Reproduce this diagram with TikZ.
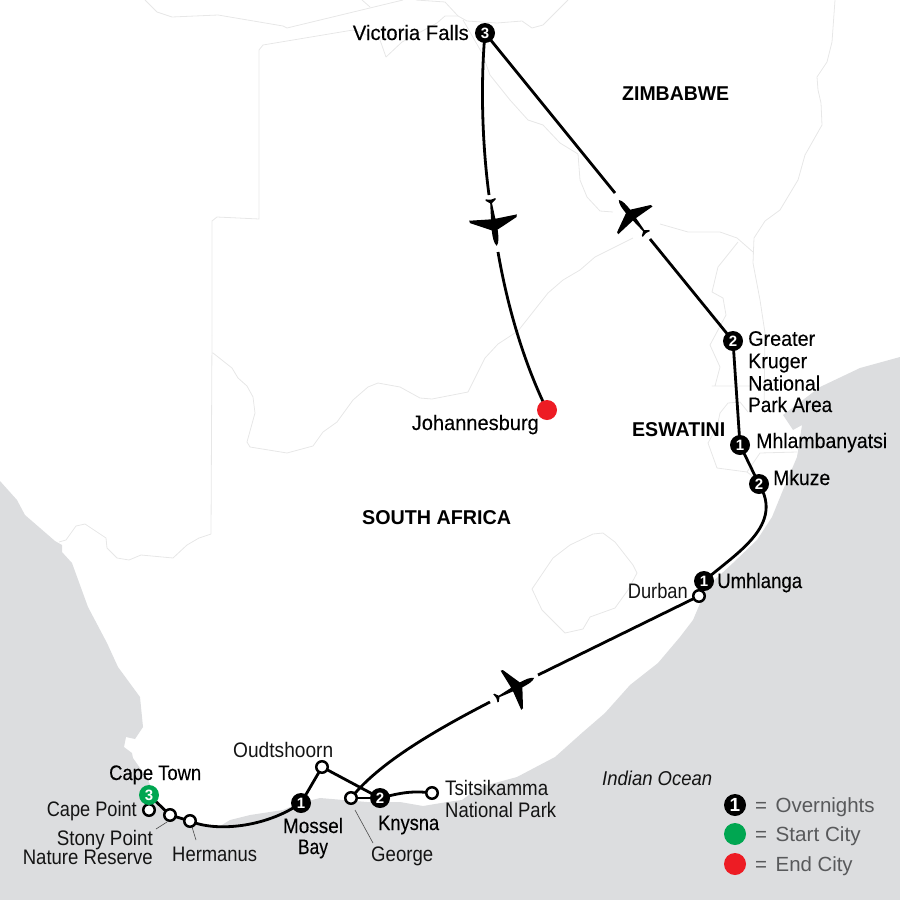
\documentclass[tikz,border=0pt]{standalone}
\usepackage{fontspec}
\usepackage{graphicx}
\setmainfont{Liberation Sans}
\newfontfamily\medfont[FakeBold=0.2]{Liberation Sans}
\newfontfamily\boldfont{Liberation Sans Bold}
\definecolor{sea}{HTML}{DCDDDF}
\definecolor{border}{HTML}{E7E7E7}
\definecolor{startgreen}{HTML}{00A651}
\definecolor{endred}{HTML}{ED1C24}
\definecolor{legendgray}{HTML}{58595B}
\newcommand{\fitw}[2]{\resizebox{#1pt}{\height}{#2}}
\pgfdeclarelayer{maplayer}
\pgfdeclarelayer{routelayer}
\pgfsetlayers{maplayer,routelayer,main}
\tikzset{
  x=1pt,y=-1pt,
  borderline/.style={draw=border,line width=0.8pt,line join=round},
  route/.style={draw=black,line width=2.8pt},
  leader/.style={draw=black!70,line width=0.6pt},
  badge/.style={circle,fill=black,minimum size=20pt,inner sep=0pt,text=white,font=\boldfont\fontsize{15}{15}\selectfont},
  startbadge/.style={badge,fill=startgreen},
  stopdot/.style={circle,fill=white,draw=black,line width=2.5pt,minimum size=11.5pt,inner sep=0pt},
  enddot/.style={circle,fill=endred,minimum size=20pt,inner sep=0pt},
  legenddot/.style={circle,minimum size=22pt,inner sep=0pt},
  place/.style={inner sep=0pt,text=black!92,font=\fontsize{21}{22}\selectfont},
  mainplace/.style={inner sep=0pt,text=black,font=\medfont\fontsize{21}{22}\selectfont},
  country/.style={inner sep=0pt,text=black,font=\boldfont\fontsize{20}{22}\selectfont},
  legendtext/.style={inner sep=0pt,text=legendgray,font=\fontsize{20.5}{22}\selectfont},
  plane/.pic={
    \fill[black] (21,0) .. controls (18,-2.8) and (12,-3) .. (5,-3)
      -- (-5,-23.5) -- (-7.5,-24) -- (-6,-2.2) -- (-22,-0.9) -- (-25,-5) -- (-26.5,-5)
      -- (-25.5,0) -- (-26.5,5) -- (-25,5) -- (-22,0.9) -- (-6,2.2) -- (-7.5,24) -- (-5,23.5)
      -- (5,3) .. controls (12,3) and (18,2.8) .. (21,0) -- cycle;
  }
}
\begin{document}
\begin{tikzpicture}
\useasboundingbox (0,0) rectangle (900,900);

% --- route stops
\node[badge] (vic) at (485,33) {3};
\node[badge] (kruger) at (733,341) {2};
\node[badge] (mhlam) at (740,445) {1};
\node[badge] (mkuze) at (759,484) {2};
\node[badge] (umhl) at (704,581) {1};
\node[stopdot] (durban) at (699,596) {};
\node[enddot] (jnb) at (547,410) {};
\node[stopdot] (george) at (351,798) {};
\node[badge] (knysna) at (380,798) {2};
\node[stopdot] (tsitsi) at (432,793) {};
\node[stopdot] (oudts) at (322,767) {};
\node[badge] (mossel) at (301,803) {1};
\node[stopdot] (herm) at (190,821) {};
\node[stopdot] (stony) at (170,815) {};
\node[stopdot] (capept) at (149,810) {};
\node[startbadge] (capetown) at (149,795) {3};

% --- gap ends of the flown legs
\coordinate (f1a) at (489,195);
\coordinate (f1b) at (498,252);
\coordinate (f2a) at (615,193);
\coordinate (f2b) at (650,239);
\coordinate (f3a) at (490,702);
\coordinate (f3b) at (538,675);
% leader ends
\coordinate (lg) at (373,843);
\coordinate (lg0) at (355,810);
\coordinate (lh) at (196,840);
\coordinate (lh0) at (192,827);
\coordinate (ls) at (156,829);
\coordinate (ls0) at (167,822);

\begin{pgfonlayer}{maplayer}
\fill[sea] (0,481) -- (17,500) -- (25,515) -- (55,541) -- (62,545) -- (62,552) -- (72,563) -- (88,607) -- (107,643) -- (118,667) -- (140,697) -- (143,727) -- (135,739) -- (126,737) -- (124,747) -- (132,753) -- (133,758) -- (140,768) -- (147,778) -- (157,800) -- (170,815) -- (197,825) -- (217,828) -- (230,820) -- (250,815) -- (283,810) -- (300,803) -- (320,798) -- (367,802) -- (400,802) -- (423,806) -- (447,802) -- (462,800) -- (480,787) -- (517,777) -- (555,757) -- (583,732) -- (605,713) -- (630,685) -- (658,663) -- (680,637) -- (693,620) -- (707,587) -- (733,563) -- (757,540) -- (772,517) -- (783,490) -- (797,457) -- (802,425) -- (793,430) -- (783,415) -- (820,387) -- (860,368) -- (900,357) -- (900,900) -- (0,900) -- cycle;
% borders
\draw[borderline] (145,0) -- (157,12) -- (172,17) -- (218,15) -- (283,26) -- (287,28) -- (403,0);
\draw[borderline] (362,0) -- (370,7);
\draw[borderline] (416,0) -- (445,2) -- (458,16);
\draw[borderline] (212,335) -- (212,221) -- (217,217) -- (259,219) -- (259,50) -- (263,45) -- (353,30);
\draw[borderline] (353,30) -- (380,40) -- (386,57) -- (402,42) -- (437,23) -- (445,16) -- (458,16) -- (467,21) -- (497,23) -- (522,21) -- (532,28) -- (543,25) -- (568,0);
\draw[borderline] (463,20) -- (482,53) -- (490,75) -- (510,100) -- (528,120) -- (543,125) -- (560,143) -- (578,154) -- (580,180) -- (587,197) -- (600,211) -- (613,212);
\draw[borderline] (660,224) -- (688,232) -- (720,232) -- (737,238) -- (753,252);
\draw[borderline] (835,0) -- (832,42) -- (827,62) -- (817,77) -- (818,90) -- (821,103) -- (822,125) -- (805,155) -- (798,180) -- (780,210) -- (765,221) -- (754,238) -- (753,263) -- (760,300) -- (765,333) -- (764,412);
\draw[borderline] (738,242) -- (718,267) -- (712,292) -- (723,298) -- (726,315) -- (710,345) -- (720,367) -- (715,386) -- (712,386) -- (765,386);
\draw[borderline] (748,412) -- (740,402) -- (728,403) -- (720,413) -- (717,427) -- (708,443) -- (717,468) -- (747,472) -- (760,453) -- (797,452);
\draw[borderline] (747,472) -- (760,482);
\draw[borderline] (633,238) -- (595,257) -- (580,270) -- (563,280) -- (548,293) -- (518,331) -- (498,344) -- (485,358) -- (468,392) -- (432,399) -- (420,398) -- (400,387) -- (378,383) -- (368,387) -- (353,400) -- (337,422) -- (323,432) -- (313,446) -- (287,453) -- (250,447) -- (247,442) -- (255,413) -- (253,397) -- (247,386) -- (238,378) -- (232,368) -- (213,353) -- (212,353);
\draw[borderline] (212,335) -- (211,534) -- (199,538) -- (187,545) -- (173,558) -- (141,555) -- (129,560) -- (117,558) -- (107,548) -- (106,538) -- (85,524) -- (76,526) -- (66,540) -- (59,542);
\draw[borderline] (603,533) -- (593,534) -- (570,545) -- (553,558) -- (532,589) -- (542,610) -- (565,633) -- (583,629) -- (590,617) -- (615,608) -- (628,590) -- (637,573) -- (633,565) -- (615,542) -- cycle;
\end{pgfonlayer}

\begin{pgfonlayer}{routelayer}
\draw[route] (capetown.center) -- (stony.center) -- (herm.center);
\draw[route] (capetown.center) -- (capept.center);
\draw[route] (herm.center) .. controls (215,832) and (265,828) .. (mossel.center);
\draw[route] (mossel.center) -- (oudts.center) -- (knysna.center);
\draw[route] (george.center) -- (knysna.center);
\draw[route] (knysna.center) .. controls (397,794) and (410,790) .. (tsitsi.center);
\draw[route] (george.center) .. controls (375,768) and (420,738) .. (f3a);
\draw[route] (f3b) -- (durban.center);
\draw[route] (durban.center) -- (umhl.center);
\draw[route] (umhl.center) .. controls (738,552) and (784,525) .. (mkuze.center);
\draw[route] (mkuze.center) -- (mhlam.center) -- (kruger.center);
\draw[route] (kruger.center) -- (f2b);
\draw[route] (f2a) -- (vic.center);
\draw[route] (vic.center) .. controls (480,90) and (483,150) .. (f1a);
\draw[route] (f1b) .. controls (508,310) and (525,365) .. (jnb.center);
\draw[leader] (lg0) -- (lg);
\draw[leader] (lh0) -- (lh);
\draw[leader] (ls0) -- (ls);
\end{pgfonlayer}

% --- aeroplanes
\pic[rotate=-82.4] at (494,225) {plane};
\pic[rotate=129,scale=0.92] at (631,215) {plane};
\pic[rotate=27.8,scale=0.92] at (517,687) {plane};

% --- labels
\node[mainplace,anchor=base east] (lvic) at (469,40) {\fitw{116}{Victoria Falls}};
\node[country,anchor=base west] (lzim) at (622,100) {\fitw{107}{ZIMBABWE}};
\node[country,anchor=base west] (lesw) at (632,436) {\fitw{93}{ESWATINI}};
\node[country,anchor=base west] (lsa) at (362,524) {\fitw{149}{SOUTH AFRICA}};
\node[mainplace,anchor=base west,align=left] (lkrug) at (748,412) {\fitw{67}{Greater}\\[0.4pt]\fitw{59}{Kruger}\\[0.4pt]\fitw{72}{National}\\[-0.6pt]\fitw{84}{Park Area}};
\node[mainplace,anchor=base west] (lmhl) at (756,448) {\fitw{131}{Mhlambanyatsi}};
\node[mainplace,anchor=base west] (lmku) at (773,485) {\fitw{57}{Mkuze}};
\node[mainplace,anchor=base west] (lumh) at (717,588) {\fitw{85}{Umhlanga}};
\node[place,anchor=base east] (ldur) at (688,598) {\fitw{60}{Durban}};
\node[mainplace,anchor=base east] (ljnb) at (539,430) {\fitw{127}{Johannesburg}};
\node[mainplace,anchor=base west] (lct) at (109,780) {\fitw{92}{Cape Town}};
\node[place,anchor=base east] (lcp) at (137,816) {\fitw{90}{Cape Point}};
\node[place,anchor=base east,align=right] (lsp) at (153,864) {\fitw{96}{Stony Point}\\[-3pt]\fitw{130}{Nature Reserve}};
\node[place,anchor=base west] (lher) at (172,861) {\fitw{85}{Hermanus}};
\node[mainplace,anchor=base,align=center] (lmos) at (313,854) {\fitw{60}{Mossel}\\[-1pt]\fitw{30}{Bay}};
\node[mainplace,anchor=base west] (lkny) at (378,830) {\fitw{61}{Knysna}};
\node[place,anchor=base west] (lgeo) at (371,861) {\fitw{62}{George}};
\node[place,anchor=base west] (loud) at (233,757) {\fitw{100}{Oudtshoorn}};
\node[place,anchor=base west,align=left] (ltsi) at (445,817) {\fitw{103}{Tsitsikamma}\\\fitw{111}{National Park}};
\node[place,anchor=base west,font=\itshape\fontsize{20}{22}\selectfont] (lind) at (602,785) {\fitw{110}{Indian Ocean}};

% --- legend
\node[badge,minimum size=22pt,font=\boldfont\fontsize{19}{19}\selectfont] (k1) at (735,805) {1};
\node[legenddot,fill=startgreen] (k2) at (735,834) {};
\node[legenddot,fill=endred] (k3) at (735,864) {};
\node[legendtext,anchor=base west] (t1) at (755,812) {=\hspace{8.5pt}\fitw{99}{Overnights}};
\node[legendtext,anchor=base west] (t2) at (755,841) {=\hspace{8.5pt}\fitw{85}{Start City}};
\node[legendtext,anchor=base west] (t3) at (755,871) {=\hspace{8.5pt}\fitw{77}{End City}};
\end{tikzpicture}
\end{document}
